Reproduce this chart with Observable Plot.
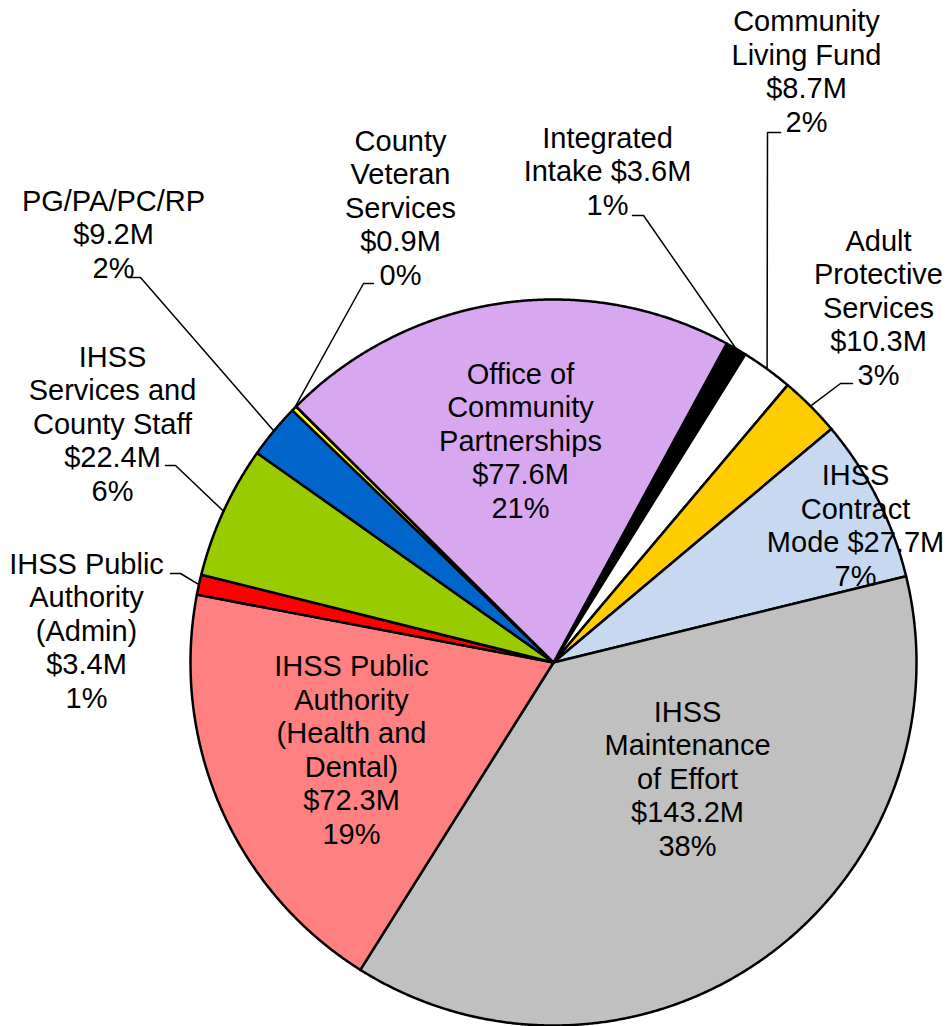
<!DOCTYPE html>
<html>
<head>
<meta charset="utf-8">
<script src="https://cdn.jsdelivr.net/npm/d3@7"></script>
<script src="https://cdn.jsdelivr.net/npm/@observablehq/plot@0.6"></script>
<style>
  html, body { margin: 0; padding: 0; background: #fff; }
  #chart svg { display: block; }
</style>
</head>
<body>
<div id="chart"></div>
<script>
// ---- data ----
const categories = [
  "Integrated Intake", "Community Living Fund", "Adult Protective Services",
  "IHSS Contract Mode", "IHSS Maintenance of Effort",
  "IHSS Public Authority (Health and Dental)", "IHSS Public Authority (Admin)",
  "IHSS Services and County Staff", "PG/PA/PC/RP", "County Veteran Services",
  "Office of Community Partnerships"
];
const amounts = [3.6, 8.7, 10.3, 27.7, 143.2, 72.3, 3.4, 22.4, 9.2, 0.9, 77.6];
const percents = ["1%", "2%", "3%", "7%", "38%", "19%", "1%", "6%", "2%", "0%", "21%"];
const labelNames = [
  "Integrated\nIntake", "Community\nLiving Fund", "Adult\nProtective\nServices",
  "IHSS\nContract\nMode", "IHSS\nMaintenance\nof Effort",
  "IHSS Public\nAuthority\n(Health and\nDental)", "IHSS Public\nAuthority\n(Admin)",
  "IHSS\nServices and\nCounty Staff", "PG/PA/PC/RP", "County\nVeteran\nServices",
  "Office of\nCommunity\nPartnerships"
];
const amountJoin = [" ", "\n", "\n", " ", "\n", "\n", "\n", "\n", "\n", "\n", "\n"];

// ---- styles / layout ----
const colors = ["#000000", "#FFFFFF", "#FFCC00", "#C6D9F1", "#C0C0C0", "#FF8080",
                "#FF0000", "#99CC00", "#0066CC", "#FFFF00", "#D7A8F0"];
const W = 949, H = 1026, CX = 553, CY = 662, R = 363, START_DEG = 28.5;
// label block centre x and last-line baseline y
const labelX = [607, 806, 878, 855, 687, 351, 86, 112, 113, 400, 520];
const labelY = [214, 131, 384, 585, 855, 843, 707, 500, 277, 284, 517];
// leader lines: [textEndX, textEndY, elbowX, elbowY] or null
const leaders = [
  [632, 215, 643, 215],
  [780, 132, 767, 132],
  [852, 383, 840, 383],
  null, null, null,
  [170, 573, 180, 573],
  [165, 465, 175, 465],
  [128, 277, 140, 277],
  [373, 283, 363, 283],
  null
];

const fmtM = v => "$" + v.toFixed(1) + "M";
const rows = categories.map((name, i) => ({
  name, amount: amounts[i], pct: percents[i], color: colors[i], i
}));

const arcs = d3.pie().sort(null).value(d => d.amount)
  .startAngle(START_DEG * Math.PI / 180)
  .endAngle((START_DEG + 360) * Math.PI / 180)(rows);

const px = a => CX + R * Math.sin(a);
const py = a => CY - R * Math.cos(a);

// slice outlines
const slicePts = [];
for (const a of arcs) {
  const d = a.data;
  slicePts.push({name: d.name, color: d.color, x: CX, y: CY});
  const n = Math.max(2, Math.ceil((a.endAngle - a.startAngle) / (0.25 * Math.PI / 180)));
  for (let k = 0; k <= n; ++k) {
    const t = a.startAngle + (a.endAngle - a.startAngle) * k / n;
    slicePts.push({name: d.name, color: d.color, x: px(t), y: py(t)});
  }
  slicePts.push({name: d.name, color: d.color, x: CX, y: CY});
}

// leader lines
const leaderPts = [];
arcs.forEach(a => {
  const i = a.data.i, L = leaders[i];
  if (!L) return;
  const mid = (a.startAngle + a.endAngle) / 2;
  leaderPts.push({name: a.data.name, x: L[0], y: L[1]});
  leaderPts.push({name: a.data.name, x: L[2], y: L[3]});
  leaderPts.push({name: a.data.name, x: px(mid), y: py(mid)});
});

// labels
const labels = rows.map((d, i) => ({
  x: labelX[i], y: labelY[i],
  text: labelNames[i] + amountJoin[i] + fmtM(d.amount) + "\n" + d.pct
}));

const chart = Plot.plot({
  width: W, height: H, margin: 0,
  x: {domain: [0, W], axis: null},
  y: {domain: [H, 0], axis: null},
  color: {type: "identity"},
  style: {background: "#fff"},
  marks: [
    Plot.line(slicePts, {x: "x", y: "y", z: "name", fill: "color", stroke: "#000",
      strokeWidth: 2.5, strokeLinejoin: "round"}),
    Plot.line(leaderPts, {x: "x", y: "y", z: "name", stroke: "#000", strokeWidth: 1.5}),
    Plot.text(labels, {x: "x", y: "y", text: "text", fontSize: 29, lineHeight: 1.155,
      lineAnchor: "bottom", textAnchor: "middle", fill: "#000",
      fontFamily: "'Liberation Sans', Arial, sans-serif"})
  ]
});
document.getElementById("chart").appendChild(chart);
</script>
</body>
</html>
